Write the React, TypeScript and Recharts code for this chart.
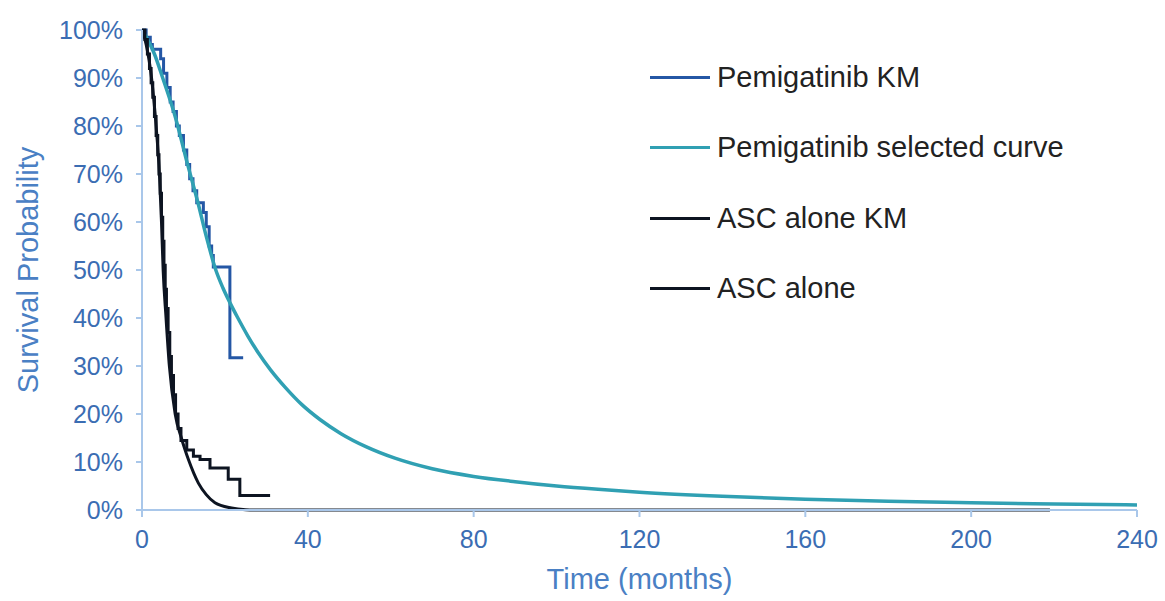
import React from "react";
import { LineChart, Line, XAxis, YAxis, Legend } from "recharts";

const FONT = "'Liberation Sans', Arial, sans-serif";

// axis ticks
const xTicks = [0, 40, 80, 120, 160, 200, 240];
const yTicks = [0, 10, 20, 30, 40, 50, 60, 70, 80, 90, 100];

// Pemigatinib KM (step)
const pemiKmMonths = [0, 1, 2, 2.5, 4.5, 5.2, 6, 6.8, 7.5, 8.3, 9, 10, 10.8, 11.5, 12.3, 13.2, 14.8, 15.5, 16.2, 16.8, 17.2, 21.2, 24.4];
const pemiKmSurv = [100, 98.5, 97, 96, 94, 91, 88, 85, 83, 80, 78, 75, 72, 69, 66.5, 64, 62, 59, 55, 53, 50.6, 31.7, 31.7];

// Pemigatinib selected curve
const pemiFitMonths = [0, 3, 5, 8, 11, 13.5, 15.5, 17.8, 19.5, 21.2, 23, 25.5, 28, 31, 34.5, 38.5, 43, 48, 54, 61, 70, 80, 90, 100, 110, 120, 140, 160, 180, 200, 220, 240];
const pemiFitSurv = [100, 95, 90, 82, 72, 64, 57, 50, 46.3, 43.2, 40.2, 36.3, 32.8, 29.2, 25.6, 22, 18.8, 15.9, 13.2, 10.8, 8.6, 7, 5.9, 5, 4.3, 3.7, 2.85, 2.25, 1.8, 1.5, 1.25, 1.05];

// ASC alone KM (step)
const ascKmMonths = [0, 0.7, 1.3, 1.8, 2.2, 2.6, 3, 3.4, 3.8, 4.1, 4.4, 4.7, 5, 5.3, 5.6, 5.9, 6.3, 6.7, 7.1, 7.6, 8.1, 8.7, 9.4, 10.8, 12.4, 14, 16.4, 20.8, 23.6, 30.9];
const ascKmSurv = [100, 98, 95, 92, 89, 86, 82, 78, 74, 70, 66, 61, 56, 51, 46, 42, 37, 32, 28, 24, 20, 17, 14.5, 12.5, 11.2, 10.5, 8.75, 6.4, 3, 3];

// ASC alone fitted curve
const ascFitMonths = [0, 1, 2.3, 3.4, 4.2, 4.7, 5.1, 5.8, 6.6, 8, 9.5, 10.4, 11.2, 13.6, 15.5, 17.6, 21.6, 25, 27, 219];
const ascFitSurv = [100, 97, 90, 80, 70, 60, 50, 40, 30, 20, 15, 12.5, 10.5, 5.6, 3.2, 1.5, 0.4, 0.05, 0, 0];

const legendNames = ["Pemigatinib KM", "Pemigatinib selected curve", "ASC alone KM", "ASC alone"];
const legendColors = ["#2457a5", "#30a0b3", "#0d1421", "#0d1421"];

const toPoints = (months: number[], surv: number[]) => months.map((t, i) => ({ t, s: surv[i] }));

const pemiKm = toPoints(pemiKmMonths, pemiKmSurv);
const pemiFit = toPoints(pemiFitMonths, pemiFitSurv);
const ascKm = toPoints(ascKmMonths, ascKmSurv);
const ascFit = toPoints(ascFitMonths, ascFitSurv);

const renderLegend = () => (
  <div style={{ fontFamily: FONT }}>
    {legendNames.map((name, i) => (
      <div key={name} style={{ display: "flex", alignItems: "center", height: 70.5 }}>
        <div style={{ width: 60, height: 3, background: legendColors[i] }} />
        <span style={{ marginLeft: 7, fontSize: 29, color: "#222", whiteSpace: "nowrap" }}>{name}</span>
      </div>
    ))}
  </div>
);

const axisColor = "#a9c7ea";
const tickStyle = { fill: "#3b6db3", fontSize: 25, fontFamily: FONT };

export default function App() {
  return (
    <div style={{ position: "absolute", left: 0, top: 0, background: "#fff" }}>
      <LineChart width={1165} height={601} margin={{ top: 30, right: 28, bottom: 31, left: 10 }}>
        <XAxis
          type="number"
          dataKey="t"
          domain={[0, 240]}
          ticks={xTicks}
          allowDataOverflow
          height={60}
          tick={tickStyle}
          tickSize={7}
          tickMargin={13}
          axisLine={{ stroke: axisColor, strokeWidth: 2 }}
          tickLine={{ stroke: axisColor, strokeWidth: 2 }}
          label={{ value: "Time (months)", position: "bottom", offset: -2, style: { fill: "#4a80c4", fontSize: 29, fontFamily: FONT } }}
        />
        <YAxis
          type="number"
          domain={[0, 100]}
          ticks={yTicks}
          width={132}
          tick={tickStyle}
          tickSize={6}
          tickMargin={13}
          tickFormatter={(v: number) => `${v}%`}
          axisLine={{ stroke: axisColor, strokeWidth: 2 }}
          tickLine={{ stroke: axisColor, strokeWidth: 2 }}
          label={{ value: "Survival Probability", angle: -90, position: "insideLeft", offset: 18, style: { textAnchor: "middle", fill: "#4a80c4", fontSize: 29, fontFamily: FONT } }}
        />
        <Legend
          content={renderLegend}
          layout="vertical"
          align="center"
          verticalAlign="middle"
          wrapperStyle={{ left: 650, top: 42, width: 500 }}
        />
        <Line data={pemiKm} dataKey="s" name={legendNames[0]} type="stepAfter" stroke={legendColors[0]} strokeWidth={3} dot={false} isAnimationActive={false} />
        <Line data={pemiFit} dataKey="s" name={legendNames[1]} type="monotone" stroke={legendColors[1]} strokeWidth={3.5} dot={false} isAnimationActive={false} />
        <Line data={ascKm} dataKey="s" name={legendNames[2]} type="stepAfter" stroke={legendColors[2]} strokeWidth={3} dot={false} isAnimationActive={false} />
        <Line data={ascFit} dataKey="s" name={legendNames[3]} type="monotone" stroke={legendColors[3]} strokeWidth={3} dot={false} isAnimationActive={false} />
      </LineChart>
    </div>
  );
}
